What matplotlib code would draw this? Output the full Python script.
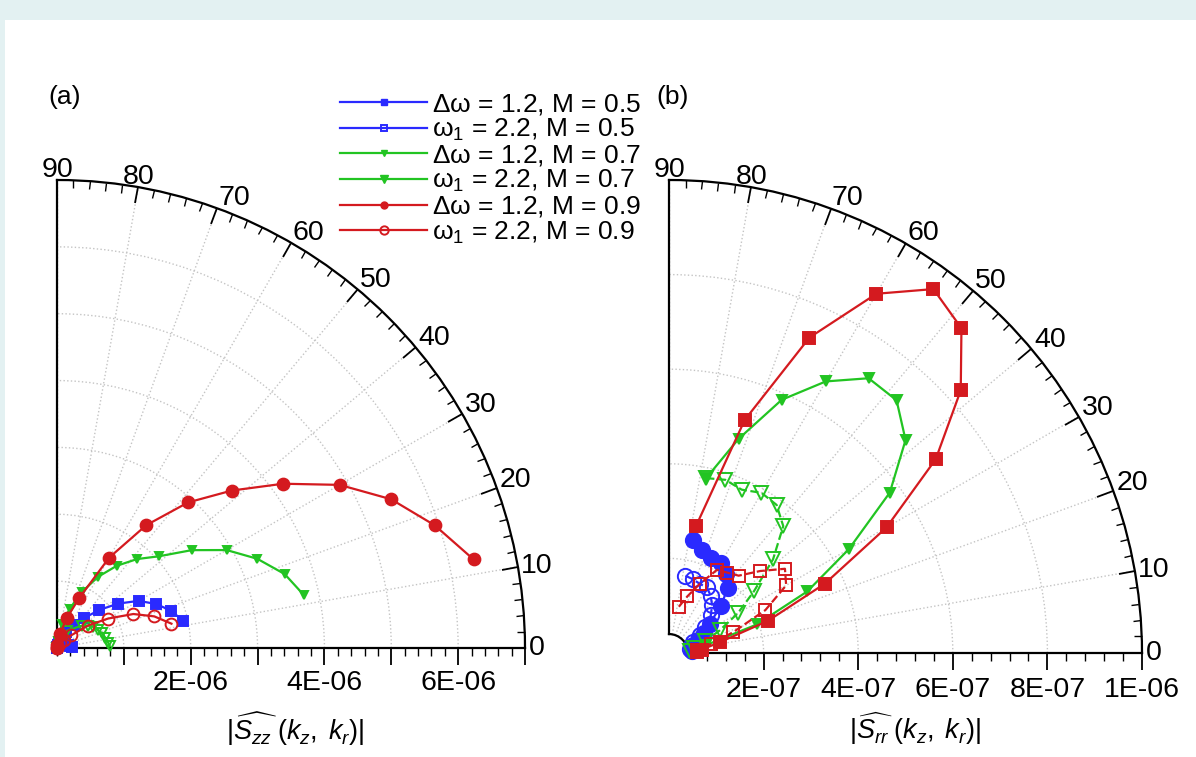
import numpy as np
import matplotlib
matplotlib.use('Agg')
import matplotlib.pyplot as plt
from matplotlib.lines import Line2D
from matplotlib.patches import Rectangle
from matplotlib.ticker import FixedLocator, FuncFormatter

plt.rcParams['font.family'] = ['Liberation Sans', 'DejaVu Sans']
plt.rcParams['mathtext.fontset'] = 'custom'
plt.rcParams['mathtext.rm'] = 'Liberation Sans'
plt.rcParams['mathtext.it'] = 'Liberation Sans:italic'
plt.rcParams['mathtext.bf'] = 'Liberation Sans:bold'

# ---------------- data ----------------
legend_labels = [r'$\mathregular{\Delta\omega}$ = 1.2, M = 0.5', r'$\mathregular{\omega_1}$ = 2.2, M = 0.5',
                 r'$\mathregular{\Delta\omega}$ = 1.2, M = 0.7', r'$\mathregular{\omega_1}$ = 2.2, M = 0.7',
                 r'$\mathregular{\Delta\omega}$ = 1.2, M = 0.9', r'$\mathregular{\omega_1}$ = 2.2, M = 0.9']

# panel (a): |S_zz|, angle in degrees, magnitude in units of 1E-06
a_dw05_theta = [90, 84, 78, 72, 66, 60, 54, 48, 42, 36, 30, 24, 18, 12]
a_dw05_r     = [0.0, 0.02, 0.05, 0.10, 0.17, 0.27, 0.42, 0.60, 0.85, 1.13, 1.41, 1.62, 1.80, 1.93]
a_w105_theta = [90, 60, 40, 25, 15, 8, 4]
a_w105_r     = [0.0, 0.05, 0.10, 0.14, 0.17, 0.20, 0.22]
a_dw07_theta = [90, 84, 78, 72, 66, 60, 54, 48, 42, 36, 30, 24, 18, 12]
a_dw07_r     = [0.0, 0.10, 0.36, 0.62, 0.92, 1.23, 1.52, 1.79, 2.05, 2.49, 2.93, 3.28, 3.58, 3.78]
a_w107_theta = [90, 60, 42, 36, 30, 24, 18, 12, 6, 2]
a_w107_r     = [0.0, 0.30, 0.50, 0.57, 0.63, 0.67, 0.71, 0.74, 0.77, 0.79]
a_dw09_theta = [90, 84, 78, 72, 66, 60, 54, 48, 42, 36, 30, 24, 18, 12]
a_dw09_r     = [0.0, 0.05, 0.22, 0.47, 0.82, 1.56, 2.27, 2.93, 3.52, 4.18, 4.88, 5.47, 5.94, 6.37]
a_w109_theta = [90, 60, 48, 42, 36, 30, 24, 18, 12]
a_w109_r     = [0.0, 0.08, 0.16, 0.28, 0.57, 0.88, 1.25, 1.53, 1.75]

# panel (b): |S_rr|, angle in degrees, magnitude in units of 1E-07
b_dw05_theta = [78, 72, 66, 60, 54, 48, 42, 36, 30, 24, 18, 12, 6]
b_dw05_r     = [2.44, 2.29, 2.19, 2.20, 2.06, 1.85, 1.48, 1.06, 0.85, 0.68, 0.55, 0.50, 0.48]
b_w105_theta = [78, 72, 66, 60, 54, 48, 42, 36, 30, 24, 18, 12]
b_w105_r     = [1.67, 1.64, 1.60, 1.60, 1.50, 1.36, 1.19, 0.95, 0.75, 0.55, 0.48, 0.45]
b_dw07_theta = [78, 72, 66, 60, 54, 48, 42, 36, 30, 24, 18, 12, 6]
b_dw07_r     = [3.78, 4.76, 5.86, 6.63, 7.18, 7.19, 6.73, 5.77, 4.39, 3.20, 1.95, 0.80, 0.55]
b_w107_theta = [78, 72, 66, 60, 54, 48, 42, 36, 30, 24, 18, 12, 6]
b_w107_r     = [3.78, 3.85, 3.78, 3.91, 3.87, 3.61, 2.96, 2.22, 1.68, 1.17, 0.80, 0.55, 0.45]
b_dw09_theta = [78, 72, 66, 60, 54, 48, 42, 36, 30, 24, 18, 12, 6, 2]
b_dw09_r     = [2.74, 5.18, 7.30, 8.77, 9.51, 9.24, 8.30, 6.97, 5.31, 3.61, 2.20, 1.10, 0.70, 0.60]
b_w109_theta = [78, 72, 66, 60, 54, 48, 42, 36, 30, 24, 18, 12, 6]
b_w109_r     = [1.00, 1.26, 1.60, 2.03, 2.10, 2.20, 2.59, 3.03, 2.86, 2.23, 1.43, 0.90, 0.60]

a_rticks = [1, 2, 3, 4, 5, 6, 7]          # x 1E-06
b_rticks = [2, 4, 6, 8, 10]               # x 1E-07
theta_ticks = list(range(0, 91, 10))

BLUE = '#2a2aff'
GREEN = '#22c422'
RED = '#d41a1f'

# ---------------- figure ----------------
W, H = 1196, 757
fig = plt.figure(figsize=(W / 100, H / 100), dpi=100)
fig.patch.set_facecolor('#e3f1f2')
fig.add_artist(Rectangle((5 / W, 0), 1, 1 - 20 / H, transform=fig.transFigure,
                         facecolor='white', edgecolor='none', zorder=-5))


def place(cx, cy, rad):
    return [cx / W, (H - cy) / H, rad / W, rad / H]


def setup(ax, rmin, rmax, majors, minors, fmt, rpad):
    ax.set_thetamin(0)
    ax.set_thetamax(90)
    ax.set_rorigin(0)
    ax.set_rlim(rmin, rmax)
    ax.set_rlabel_position(0)
    ax.set_xticks(np.deg2rad(theta_ticks))
    ax.set_xticklabels([str(t) for t in theta_ticks])
    ax.set_xticks(np.deg2rad(np.arange(0, 91, 2)), minor=True)
    ax.yaxis.set_major_locator(FixedLocator(majors))
    ax.yaxis.set_minor_locator(FixedLocator(minors))
    ax.yaxis.set_major_formatter(FuncFormatter(fmt))
    ax.grid(True, which='major', color='#c4c4c4', linestyle=':', linewidth=1.0)
    ax.grid(False, which='minor')
    # theta ticks on the outer arc only, labels outside
    ax.tick_params(axis='x', which='both', bottom=False, top=True)
    ax.tick_params(axis='y', which='both', left=True, right=False)
    ax.tick_params(axis='x', which='major', direction='in', length=12, width=1.3,
                   labelsize=20.5, pad=-4.5)
    ax.tick_params(axis='x', which='minor', direction='in', length=6, width=1.0)
    ax.tick_params(axis='y', which='major', direction='out', length=12, width=1.3,
                   labelsize=20.5, pad=rpad)
    ax.tick_params(axis='y', which='minor', direction='out', length=6, width=1.0)
    for s in ax.spines.values():
        s.set_linewidth(1.6)
        s.set_color('black')


def style_theta_labels(ax):
    for t, tick in zip(theta_ticks, ax.xaxis.get_major_ticks()):
        if t >= 80:
            ha, va = 'center', 'baseline'
        elif t >= 20:
            ha, va = 'left', 'baseline'
        else:
            ha, va = 'left', 'center'
        tick.label1.set_horizontalalignment(ha)
        tick.label1.set_verticalalignment(va)


def pl(ax, th, r, scale, color, marker, ms, filled, ls='-', lw=1.6):
    ax.plot(np.deg2rad(th), np.array(r) * scale, color=color, marker=marker, ms=ms,
            mfc=color if filled else 'none', mec=color, mew=1.4, ls=ls, lw=lw,
            clip_on=False, zorder=5)


# panel (a)
axa = fig.add_axes(place(57, 648, 468), projection='polar')
sa = 1e-6
fmt_a = lambda v, p: ('%dE-06' % round(v / sa)) if round(v / sa) in (2, 4, 6) else ''
setup(axa, 0, 7 * sa, [v * sa for v in a_rticks],
      [v * sa for v in np.arange(0, 7.01, 0.2)], fmt_a, 3.5)

pl(axa, a_dw05_theta, a_dw05_r, sa, BLUE, 's', 7.5, True)
pl(axa, a_w105_theta, a_w105_r, sa, BLUE, 's', 7.5, True)
pl(axa, a_dw07_theta, a_dw07_r, sa, GREEN, 'v', 6, True)
pl(axa, a_w107_theta, a_w107_r, sa, GREEN, 'v', 7, False)
pl(axa, a_dw09_theta, a_dw09_r, sa, RED, 'o', 8.5, True)
pl(axa, a_w109_theta, a_w109_r, sa, RED, 'o', 8.5, False)

# panel (b)
axb = fig.add_axes(place(669, 653, 473), projection='polar')
sb = 1e-7
def fmt_b(v, p):
    k = round(v / sb)
    return '1E-06' if k == 10 else '%dE-07' % k
setup(axb, 0.4 * sb, 10 * sb, [v * sb for v in b_rticks],
      [v * sb for v in np.arange(0.8, 10.01, 0.4)], fmt_b, 5)

pl(axb, b_dw05_theta, b_dw05_r, sb, BLUE, 'o', 11, True)
pl(axb, b_w105_theta, b_w105_r, sb, BLUE, 'o', 11, False, ls='--')
pl(axb, b_dw07_theta, b_dw07_r, sb, GREEN, 'v', 7, True)
pl(axb, b_w107_theta, b_w107_r, sb, GREEN, 'v', 10, False, ls='--')
pl(axb, b_dw09_theta, b_dw09_r, sb, RED, 's', 8.5, True)
pl(axb, b_w109_theta, b_w109_r, sb, RED, 's', 9, False, ls='--')

style_theta_labels(axa)
style_theta_labels(axb)

# legend
handles = [
    Line2D([], [], color=BLUE, marker='s', ms=5, lw=1.6),
    Line2D([], [], color=BLUE, marker='s', ms=5, mfc='none', mew=1.4, lw=1.6),
    Line2D([], [], color=GREEN, marker='v', ms=4, lw=1.6),
    Line2D([], [], color=GREEN, marker='v', ms=6, lw=1.6),
    Line2D([], [], color=RED, marker='o', ms=5, lw=1.6),
    Line2D([], [], color=RED, marker='o', ms=6, mfc='none', mew=1.4, lw=1.6),
]
fig.legend(handles, legend_labels, loc='upper left', bbox_to_anchor=(340 / W, 1 - 92 / H),
           frameon=False, fontsize=19, handlelength=3.3, handletextpad=0.2,
           labelspacing=0.0, borderpad=0, borderaxespad=0)

fig.text(65 / W, 1 - 97 / H, '(a)', fontsize=19, ha='center', va='center')
fig.text(673 / W, 1 - 97 / H, '(b)', fontsize=19, ha='center', va='center')
fig.text(295 / W, 1 - 729 / H, r'$|\widehat{S_{zz}}\;(k_z,\;k_r)|$', fontsize=19.5,
         ha='center', va='center')
fig.text(915 / W, 1 - 729 / H, r'$|\widehat{S_{rr}}\;(k_z,\;k_r)|$', fontsize=19.5,
         ha='center', va='center')

fig.savefig('out.png', dpi=100, facecolor=fig.get_facecolor())
